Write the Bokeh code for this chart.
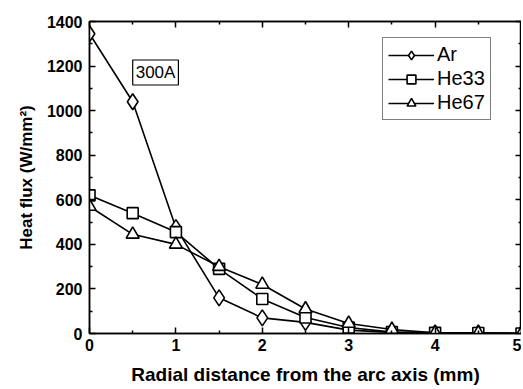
from bokeh.plotting import figure
from bokeh.models import LinearAxis, Range1d, FixedTicker, Label, Legend, LegendItem, CustomJSTickFormatter
from bokeh.embed import file_html
from bokeh.resources import INLINE

x = [0, 0.5, 1, 1.5, 2, 2.5, 3, 3.5, 4, 4.5, 5]
ar = [1345, 1040, 475, 160, 70, 50, 15, 5, 3, 2, 0]
he33 = [620, 540, 455, 290, 155, 72, 27, 6, 3, 2, 0]
he67 = [570, 445, 400, 300, 220, 110, 45, 18, 3, 2, 0]
x_ticks = [0, 1, 2, 3, 4, 5]
x_minor = [0.5, 1.5, 2.5, 3.5, 4.5]
y_ticks = [0, 200, 400, 600, 800, 1000, 1200, 1400]
y_minor = [100, 300, 500, 700, 900, 1100, 1300]

FONT = "Liberation Sans"

p = figure(width=521, height=389, output_backend="svg", toolbar_location=None,
           x_range=Range1d(0, 5), y_range=Range1d(0, 1400),
           min_border_left=89, min_border_right=0, min_border_top=21, min_border_bottom=56)
p.xgrid.visible = False
p.ygrid.visible = False
p.outline_line_color = "black"
p.outline_line_width = 1.5
p.background_fill_color = "white"
p.border_fill_color = "white"

def style(ax):
    ax.axis_line_width = 1.5
    ax.major_tick_in = 6
    ax.major_tick_out = 0
    ax.minor_tick_in = 3
    ax.minor_tick_out = 0
    ax.major_tick_line_width = 1.5
    ax.minor_tick_line_width = 1.5
    ax.major_label_text_font = FONT
    ax.major_label_text_font_style = "bold"
    ax.major_label_text_font_size = "16px"
    ax.major_label_text_color = "black"
    ax.axis_label_text_font = FONT
    ax.axis_label_text_font_style = "bold"
    ax.axis_label_text_color = "black"

xt = FixedTicker(ticks=x_ticks, minor_ticks=x_minor)
yt = FixedTicker(ticks=y_ticks, minor_ticks=y_minor)

p.xaxis.ticker = xt
p.yaxis.ticker = yt
style(p.xaxis[0])
style(p.yaxis[0])
p.xaxis.axis_label = "Radial distance from the arc axis (mm)"
p.yaxis.axis_label = "Heat flux (W/mm²)"
p.xaxis.axis_label_text_font_size = "19px"
p.yaxis.axis_label_text_font_size = "17px"
p.xaxis.major_label_standoff = 5
p.xaxis.axis_label_standoff = 10
p.yaxis.major_label_standoff = 7
p.yaxis.axis_label_standoff = 8

blank = CustomJSTickFormatter(code="return '';")
top = LinearAxis(ticker=xt, formatter=blank)
style(top)
top.major_label_standoff = 0
p.add_layout(top, "above")
right = LinearAxis(ticker=yt, formatter=blank)
style(right)
right.major_label_standoff = 0
p.add_layout(right, "right")

lw = 1.6
l1 = p.line(x, ar, line_color="black", line_width=lw)
m1 = p.scatter(x, ar, marker="diamond", size=16, fill_color="white", line_color="black", line_width=lw)
l2 = p.line(x, he33, line_color="black", line_width=lw)
m2 = p.scatter(x, he33, marker="square", size=11, fill_color="white", line_color="black", line_width=lw)
l3 = p.line(x, he67, line_color="black", line_width=lw)
m3 = p.scatter(x, he67, marker="triangle", size=13, fill_color="white", line_color="black", line_width=lw)

legend = Legend(items=[
    LegendItem(label="Ar", renderers=[l1, m1]),
    LegendItem(label="He33", renderers=[l2, m2]),
    LegendItem(label="He67", renderers=[l3, m3]),
], location=(293, 213))
legend.label_text_font = FONT
legend.label_text_font_size = "20px"
legend.label_text_color = "black"
legend.border_line_color = "black"
legend.border_line_width = 1.2
legend.glyph_width = 46
legend.glyph_height = 22
legend.label_standoff = 3
legend.spacing = 1
legend.padding = 5
legend.margin = 0
legend.label_height = 22
p.add_layout(legend)

lab = Label(x=0.5, y=1115, text="300A", text_font=FONT, text_font_size="17px",
            text_color="black",
            border_line_color="black", border_line_width=1.2,
            background_fill_color="white", padding=3)
p.add_layout(lab)

open("out.html", "w").write(file_html(p, INLINE))
